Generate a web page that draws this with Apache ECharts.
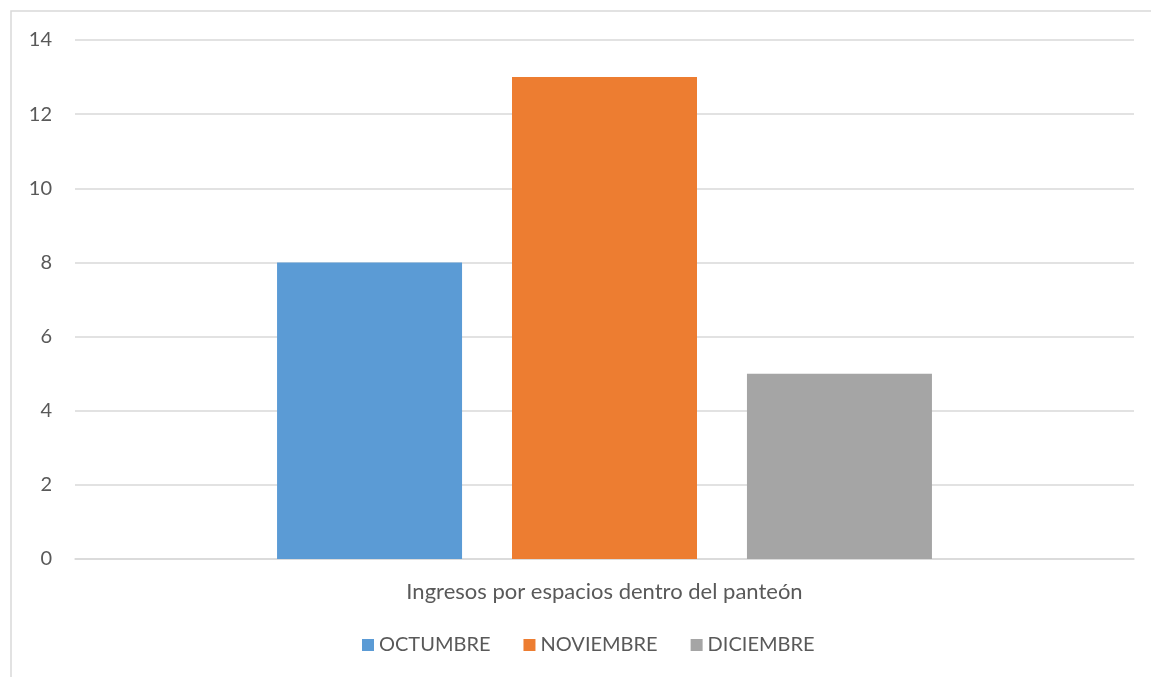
<!DOCTYPE html>
<html>
<head>
<meta charset="utf-8">
<script src="https://cdn.jsdelivr.net/npm/echarts@6/dist/echarts.min.js"></script>
<style>
  html, body { margin: 0; padding: 0; background: #fff; }
  #chart { width: 1151px; height: 677px; }
</style>
</head>
<body>
<div id="chart"></div>
<script>
var categories = ['Ingresos por espacios dentro del panteón'];
var seriesNames = ['OCTUMBRE', 'NOVIEMBRE', 'DICIEMBRE'];
var seriesValues = [[8], [13], [5]];
var seriesColors = ['#5B9BD5', '#ED7D31', '#A5A5A5'];

var chart = echarts.init(document.getElementById('chart'));
var font = 'Lato, "Open Sans", sans-serif';

var series = [];
for (var i = 0; i < seriesNames.length; i++) {
  series.push({
    name: seriesNames[i],
    type: 'bar',
    data: seriesValues[i],
    barWidth: 185,
    barGap: '27%',
    itemStyle: { color: seriesColors[i] }
  });
}

var option = {
  animation: false,
  textStyle: { fontFamily: font },
  graphic: [{
    type: 'rect',
    shape: { x: 11, y: 11, width: 1200, height: 720 },
    style: { fill: 'none', stroke: '#d9d9d9', lineWidth: 1.5 },
    silent: true
  }],
  grid: { left: 75, right: 17, top: 40, bottom: 118, containLabel: false },
  legend: {
    bottom: 17,
    left: 357,
    itemWidth: 12,
    itemHeight: 12,
    itemGap: 33,
    icon: 'rect',
    textStyle: { color: '#595959', fontSize: 20, fontFamily: font },
    data: seriesNames
  },
  xAxis: {
    type: 'category',
    data: categories,
    axisLine: { lineStyle: { color: '#d9d9d9', width: 1.5 } },
    axisTick: { show: false },
    axisLabel: { color: '#595959', fontSize: 22, margin: 22, fontFamily: font }
  },
  yAxis: {
    type: 'value',
    min: 0,
    max: 14,
    interval: 2,
    axisLine: { show: false },
    axisTick: { show: false },
    axisLabel: { color: '#595959', fontSize: 20, margin: 23, fontFamily: font },
    splitLine: { lineStyle: { color: '#d9d9d9', width: 1.5 } }
  },
  series: series
};

chart.setOption(option);
</script>
</body>
</html>
